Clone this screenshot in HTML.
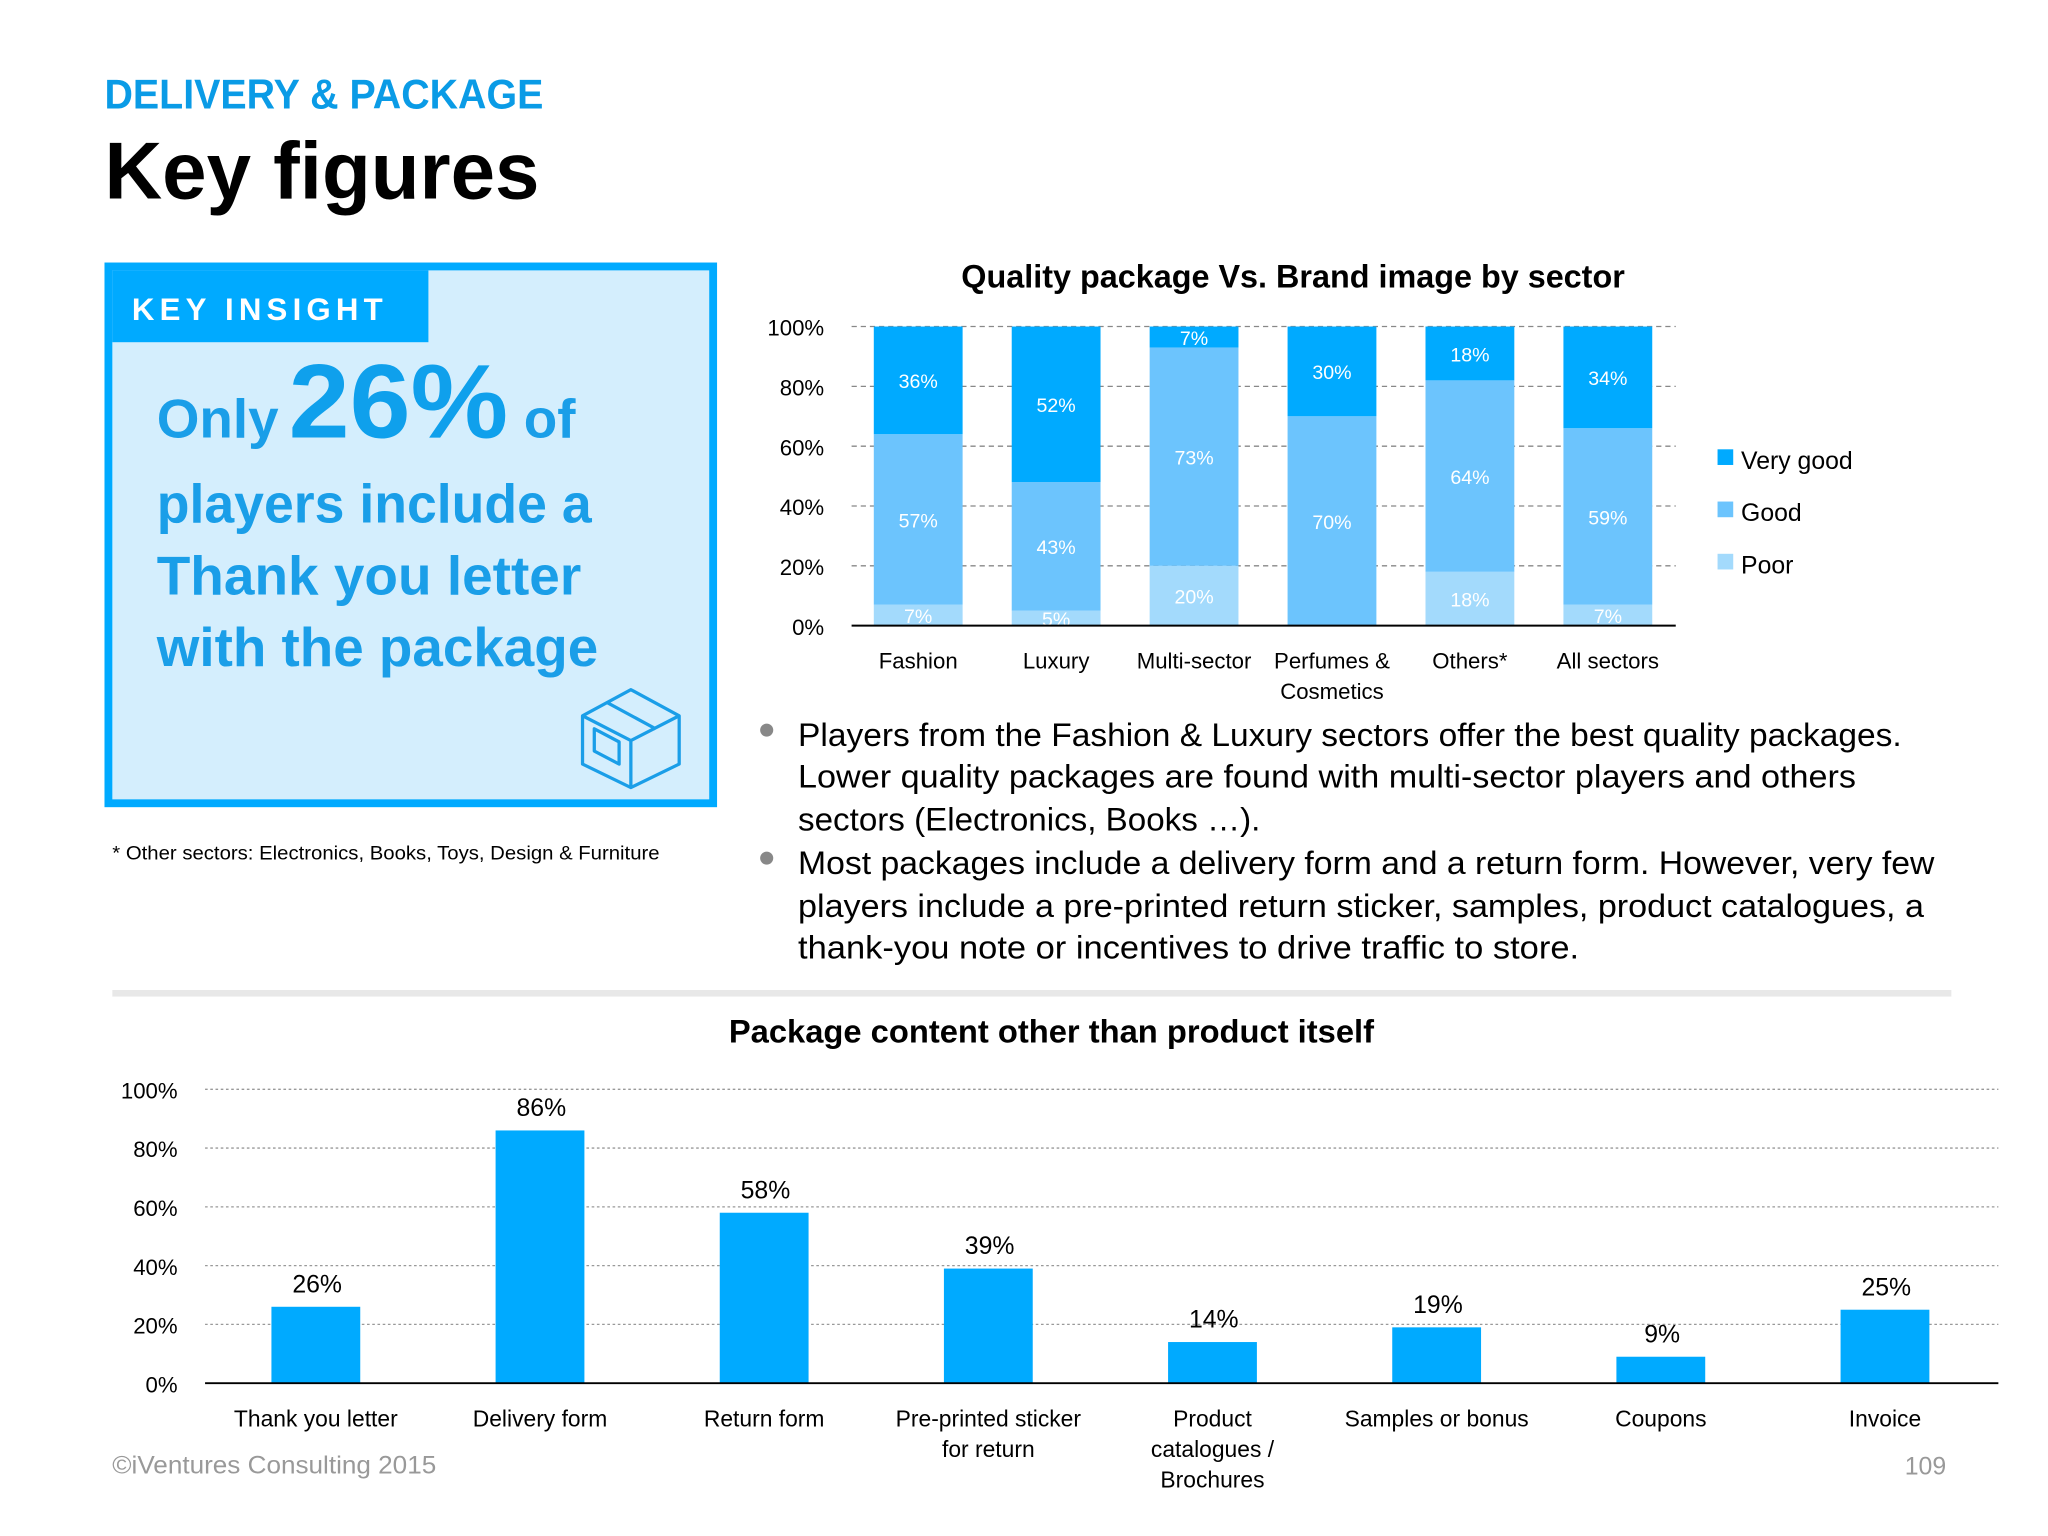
<!DOCTYPE html>
<html><head><meta charset="utf-8"><style>
html,body{margin:0;padding:0;background:#fff;}
svg{display:block;font-family:"Liberation Sans",sans-serif;}
</style></head><body>
<svg id="page" width="2048" height="1536" viewBox="0 0 1568 1176" xmlns="http://www.w3.org/2000/svg">
<rect width="1568" height="1176" fill="#fff"/>
<text x="80" y="83" font-size="32" font-weight="bold" fill="#0a9be6" textLength="336" lengthAdjust="spacingAndGlyphs">DELIVERY &amp; PACKAGE</text>
<text x="80" y="152" font-size="62" font-weight="bold" fill="#000" textLength="333" lengthAdjust="spacingAndGlyphs">Key figures</text>

<g>
<rect x="83" y="204" width="463" height="411" fill="#d4eefd" stroke="#00aaff" stroke-width="6"/>
<rect x="86" y="207" width="242" height="55" fill="#00aaff"/>
<text x="101" y="245" font-size="24" font-weight="bold" fill="#fff" letter-spacing="4" textLength="196" lengthAdjust="spacingAndGlyphs">KEY INSIGHT</text>
<g font-weight="bold" fill="#1a9ee8">
<text x="120" y="335" font-size="42">Only</text>
<text x="221" y="335" font-size="80" fill="#0fa0ec" textLength="168" lengthAdjust="spacingAndGlyphs">26%</text>
<text x="401" y="335" font-size="42">of</text>
<text x="120" y="400" font-size="42" textLength="333" lengthAdjust="spacingAndGlyphs">players include a</text>
<text x="120" y="455" font-size="42" textLength="325" lengthAdjust="spacingAndGlyphs">Thank you letter</text>
<text x="120" y="510" font-size="42" textLength="338" lengthAdjust="spacingAndGlyphs">with the package</text>
</g>
<g fill="none" stroke="#1a9ee8" stroke-width="2.5" stroke-linejoin="round">
<path d="M446 548 L483 528 L520 548 L520 585 L483 603 L446 585 Z"/>
<path d="M446 548 L483 567 L520 548 M483 567 L483 603"/>
<path d="M465 538 L502 558 M455 558 L474 568 L474 585 L455 575 Z"/>
</g>
</g>
<text x="86" y="658" font-size="14.5" fill="#000" textLength="419" lengthAdjust="spacingAndGlyphs">* Other sectors: Electronics, Books, Toys, Design &amp; Furniture</text>

<g id="chart1"></g>

<g font-size="25" fill="#000">
<circle cx="587" cy="559" r="5" fill="#888"/>
<text x="611" y="571" textLength="845" lengthAdjust="spacingAndGlyphs">Players from the Fashion &amp; Luxury sectors offer the best quality packages.</text>
<text x="611" y="603" textLength="810" lengthAdjust="spacingAndGlyphs">Lower quality packages are found with multi-sector players and others</text>
<text x="611" y="636" textLength="354" lengthAdjust="spacingAndGlyphs">sectors (Electronics, Books …).</text>
<circle cx="587" cy="657" r="5" fill="#888"/>
<text x="611" y="669" textLength="870" lengthAdjust="spacingAndGlyphs">Most packages include a delivery form and a return form. However, very few</text>
<text x="611" y="702" textLength="862" lengthAdjust="spacingAndGlyphs">players include a pre-printed return sticker, samples, product catalogues, a</text>
<text x="611" y="734" textLength="598" lengthAdjust="spacingAndGlyphs">thank-you note or incentives to drive traffic to store.</text>
</g>
<rect x="86" y="758" width="1408" height="5" fill="#e8e8e8"/>

<g id="chart2"></g>

<text x="86" y="1128" font-size="19" fill="#999" textLength="248" lengthAdjust="spacingAndGlyphs">©iVentures Consulting 2015</text>
<text x="1490" y="1129" font-size="19" fill="#999" text-anchor="end">109</text>
</svg>
<script>
const sectors = ["Fashion","Luxury","Multi-sector","Perfumes &|Cosmetics","Others*","All sectors"];
const veryGood = [36,52,7,30,18,34];
const good = [57,43,73,70,64,59];
const poor = [7,5,20,0,18,7];
const ticks1 = [0,20,40,60,80,100];

const contentCats = ["Thank you letter","Delivery form","Return form","Pre-printed sticker|for return","Product|catalogues /|Brochures","Samples or bonus","Coupons","Invoice"];
const contentVals = [26,86,58,39,14,19,9,25];
const ticks2 = [0,20,40,60,80,100];

const NS="http://www.w3.org/2000/svg";
function mk(tag,attrs,parent,txt){const e=document.createElementNS(NS,tag);for(const k in attrs)e.setAttribute(k,attrs[k]);if(txt!==undefined)e.textContent=txt;parent.appendChild(e);return e;}

// chart 1
(function(){
const g=document.getElementById('chart1');
const x0=652,x1=1283,yB=479,yT=250;
const y=v=>yB-(v/100)*(yB-yT);
const band=105.6, bw=68;
const cx=i=>650.2+band*(i+0.5);
const t=mk('text',{x:990,y:220,'font-size':25,'font-weight':'bold','text-anchor':'middle',textLength:508,lengthAdjust:'spacingAndGlyphs'},g,'Quality package Vs.  Brand image by sector');


ticks1.forEach(v=>{
 if(v>0){const l=mk('line',{x1:x0,x2:x1,y1:y(v),y2:y(v),stroke:'#888','stroke-width':1,'stroke-dasharray':'4,3'},g);
 
 }
 const tl=mk('text',{x:631,y:y(v)+7,'font-size':17,'text-anchor':'end'},g,v+'%');
 
 
});
const series=[[poor,'#a3dafc','poor'],[good,'#6cc4fd','good'],[veryGood,'#00aaff','very-good']];
sectors.forEach((s,i)=>{
 let base=0;
 series.forEach(([arr,col,nm])=>{
  const v=arr[i];
  if(v>0){
   const r=mk('rect',{x:cx(i)-bw/2,y:y(base+v),width:bw,height:y(base)-y(base+v),fill:col},g);
   
   
   const lt=mk('text',{x:cx(i),y:(y(base)+y(base+v))/2+6,'font-size':15,fill:'#fff','text-anchor':'middle'},g,v+'%');
   
   
  }
  base+=v;
 });
 const parts=s.split('|');
 parts.forEach((p,k)=>{
  const ct=mk('text',{x:cx(i),y:512+k*23,'font-size':17,'text-anchor':'middle'},g,p);
  
  
 });
});
const ax=mk('line',{x1:x0,x2:x1,y1:yB,y2:yB,stroke:'#000','stroke-width':1.5},g);


[['Very good','#00aaff'],['Good','#6cc4fd'],['Poor','#a3dafc']].forEach(([n,c],k)=>{
 const yy=351+k*40;
 const sw=mk('rect',{x:1315,y:yy-7,width:12,height:12,fill:c},g);
 
 
 const lt=mk('text',{x:1333,y:yy+8,'font-size':19},g,n);
 
 
});
})();

// chart 2
(function(){
const g=document.getElementById('chart2');
const x0=157,x1=1530,yB=1059,yT=834;
const y=v=>yB-(v/100)*(yB-yT);
const band=(x1-x0)/contentCats.length,bw=68;
const cx=i=>x0+band*(i+0.5)-1;
const t=mk('text',{x:805,y:798,'font-size':25,'font-weight':'bold','text-anchor':'middle',textLength:494,lengthAdjust:'spacingAndGlyphs'},g,'Package content other than product itself');


ticks2.forEach(v=>{
 if(v>0){const l=mk('line',{x1:x0,x2:x1,y1:y(v),y2:y(v),stroke:'#999','stroke-width':1,'stroke-dasharray':'2,2'},g);
 
 }
 const tl=mk('text',{x:136,y:y(v)+7,'font-size':17,'text-anchor':'end'},g,v+'%');
 
 
});
contentCats.forEach((c,i)=>{
 const v=contentVals[i];
 const r=mk('rect',{x:cx(i)-bw/2,y:y(v),width:bw,height:yB-y(v),fill:'#00aaff'},g);
 
 
 const lt=mk('text',{x:cx(i)+1,y:y(v)-11,'font-size':19,'text-anchor':'middle'},g,v+'%');
 
 
 c.split('|').forEach((p,k)=>{
  const ct=mk('text',{x:cx(i),y:1092+k*23.5,'font-size':17.5,'text-anchor':'middle'},g,p);
  
  
 });
});
const ax=mk('line',{x1:x0,x2:x1,y1:yB,y2:yB,stroke:'#000','stroke-width':1.5},g);


})();
</script>
</body></html>
